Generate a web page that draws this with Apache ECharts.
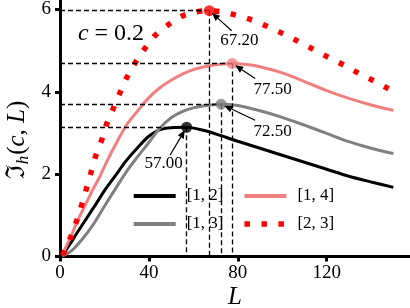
<!DOCTYPE html>
<html><head><meta charset="utf-8">
<script src="https://cdn.jsdelivr.net/npm/echarts@6/dist/echarts.min.js"></script>
<style>html,body{margin:0;padding:0;background:#fff}#c{width:410px;height:308px}</style>
</head><body><div id="c"></div>
<script>
// ---- data ----
const seriesNames = ['[1, 2]', '[1, 3]', '[1, 4]', '[2, 3]'];
const L12 = [1, 4, 8, 12, 16, 20, 25, 30, 35, 40, 45, 50, 57, 65, 70, 80, 90, 100, 110, 120, 130, 140, 150];
const V12 = [0.02, 0.26, 0.60, 0.93, 1.26, 1.60, 1.97, 2.34, 2.65, 2.92, 3.08, 3.13, 3.14, 3.06, 2.98, 2.80, 2.63, 2.46, 2.29, 2.12, 1.95, 1.81, 1.68];
const L13 = [1, 5, 10, 15, 20, 25, 30, 35, 40, 45, 50, 55, 60, 65, 72.5, 80, 90, 100, 110, 120, 130, 140, 150];
const V13 = [0.01, 0.13, 0.42, 0.78, 1.22, 1.65, 2.07, 2.43, 2.77, 3.12, 3.37, 3.52, 3.61, 3.66, 3.70, 3.67, 3.54, 3.38, 3.19, 2.99, 2.79, 2.63, 2.50];
const L14 = [1, 2, 5, 8, 12, 15, 18, 21, 25, 30, 35, 40, 45, 50, 55, 60, 65, 70, 77.5, 85, 90, 100, 110, 120, 130, 140, 150];
const V14 = [0.03, 0.15, 0.50, 0.88, 1.32, 1.65, 1.95, 2.30, 2.72, 3.20, 3.54, 3.86, 4.10, 4.28, 4.43, 4.54, 4.61, 4.66, 4.69, 4.66, 4.61, 4.46, 4.25, 4.03, 3.84, 3.68, 3.55];
const L23 = [1, 2, 5, 7.5, 10, 12, 14, 16, 19, 21, 24, 27, 30, 34, 38, 43, 49, 55, 60, 67.2, 72, 78, 85, 92, 100, 106, 113, 120, 127, 133, 140, 147, 150];
const V23 = [0.03, 0.12, 0.50, 0.87, 1.30, 1.67, 2.05, 2.43, 2.87, 3.22, 3.60, 3.98, 4.34, 4.72, 5.04, 5.38, 5.64, 5.84, 5.93, 5.97, 5.95, 5.88, 5.77, 5.62, 5.42, 5.26, 5.06, 4.86, 4.67, 4.49, 4.30, 4.10, 4.02];
const peakL = [57.0, 72.5, 77.5, 67.2];
const peakV = [3.14, 3.70, 4.69, 5.97];
const xTicks = [0, 40, 80, 120];
const yTicks = [0, 2, 4, 6];
const paramName = 'c';
const paramValue = '0.2';

// ---- styling ----
const colors = ['#000000', '#808080', '#f08080', '#ff0000'];
const FONT = '"Liberation Serif", "DejaVu Serif", serif';
const curves = [[L12, V12], [L13, V13], [L14, V14], [L23, V23]];
const dotted = [5.5, 11.5];

const series = curves.map((c, i) => ({
  name: seriesNames[i], type: 'line',
  data: c[0].map((x, j) => [x, c[1][j]]),
  smooth: 0.3, symbol: 'none', showSymbol: false, z: 3,
  lineStyle: { color: colors[i], width: i === 3 ? 5.5 : 3, type: i === 3 ? dotted : 'solid', cap: 'butt' },
  itemStyle: { color: colors[i] }
}));

series.push({
  type: 'line', data: [], z: 1, silent: true,
  markLine: {
    symbol: 'none', silent: true, animation: false, label: { show: false },
    lineStyle: { color: '#000', width: 1.3, type: [5, 3] },
    data: peakL.flatMap((x, i) => [
      [{ coord: [0, peakV[i]] }, { coord: [x, peakV[i]] }],
      [{ coord: [x, peakV[i]] }, { coord: [x, 0] }]
    ])
  }
});
series.push({
  type: 'scatter', z: 5, symbolSize: 11, silent: true,
  data: peakL.map((x, i) => ({ value: [x, peakV[i]], itemStyle: { color: colors[i] } }))
});

const legendCommon = {
  orient: 'vertical', top: 180, itemWidth: 42, itemHeight: 14, itemGap: 11,
  backgroundColor: '#ffffff', selectedMode: false, borderWidth: 0,
  lineStyle: { width: 4 },
  itemStyle: { color: 'rgba(0,0,0,0)', borderColor: 'rgba(0,0,0,0)', borderWidth: 0, opacity: 0 },
  textStyle: { fontFamily: FONT, fontSize: 17, color: '#000', padding: [0, 0, 0, 6] }
};

const staticGraphic = [
  { type: 'text', id: 'ylab', x: 17, y: 140, rotation: Math.PI / 2, z: 10,
    style: { text: '{f|ℑ}{s|h}{n|(}{i|c}{n|, }{i|L}{n|)}', align: 'center', verticalAlign: 'middle',
      rich: {
        f: { fontFamily: FONT, fontSize: 26, lineHeight: 30, verticalAlign: 'middle' },
        s: { fontFamily: FONT, fontStyle: 'italic', fontSize: 17, lineHeight: 30, verticalAlign: 'bottom', padding: [6, 1, 0, 0] },
        n: { fontFamily: FONT, fontSize: 25, lineHeight: 30 },
        i: { fontFamily: FONT, fontStyle: 'italic', fontSize: 25, lineHeight: 30 }
      } } },
  { type: 'text', id: 'xlab', x: 235, y: 297, z: 10,
    style: { text: 'L', fontFamily: FONT, fontStyle: 'italic', fontSize: 25, fill: '#000', align: 'center', verticalAlign: 'middle' } },
  { type: 'text', id: 'param', x: 111, y: 34, z: 10,
    style: { text: '{i|' + paramName + '}{n| = ' + paramValue + '}', align: 'center', verticalAlign: 'middle',
      rich: { i: { fontFamily: FONT, fontStyle: 'italic', fontSize: 24 }, n: { fontFamily: FONT, fontSize: 24 } } } }
];

const option = {
  animation: false,
  grid: { left: 60, right: 0, top: 0, bottom: 51.5, containLabel: false },
  xAxis: {
    type: 'value', min: 0, max: 157.5,
    axisLine: { lineStyle: { color: '#000', width: 3 } },
    axisTick: { show: true, inside: false, length: 5, lineStyle: { color: '#000', width: 3 }, customValues: xTicks },
    axisLabel: { customValues: xTicks, margin: 7, fontFamily: FONT, fontSize: 19, color: '#000' },
    splitLine: { show: false }
  },
  yAxis: {
    type: 'value', min: 0, max: 6.218,
    axisLine: { show: true, lineStyle: { color: '#000', width: 3 } },
    axisTick: { show: true, inside: false, length: 5, lineStyle: { color: '#000', width: 3 }, customValues: yTicks },
    axisLabel: { customValues: yTicks, margin: 9, fontFamily: FONT, fontSize: 19, color: '#000' },
    splitLine: { show: false }
  },
  legend: [
    Object.assign({}, legendCommon, { left: 124, padding: [7.5, 14, 12, 7.7],
      data: [{ name: seriesNames[0] }, { name: seriesNames[1] }] }),
    Object.assign({}, legendCommon, { left: 236, padding: [7.5, 12, 12, 5.7],
      data: [{ name: seriesNames[2] }, { name: seriesNames[3], lineStyle: { width: 5.5, type: dotted, cap: 'butt' } }] })
  ],
  series: series
};

const chart = echarts.init(document.getElementById('c'), null, { renderer: 'canvas' });
chart.setOption(option);

// annotations: text + arrow, placed relative to each peak
const annText = [[-23, 36.5], [51.5, 27], [40.5, 26], [30, 30]];
const annTail = [[-16.7, 28], [34, 16], [23, 15], [22.4, 20]];
const g = staticGraphic.slice();
peakL.forEach((x, i) => {
  const p = chart.convertToPixel({ gridIndex: 0 }, [x, peakV[i]]);
  const tx = p[0] + annText[i][0], ty = p[1] + annText[i][1];
  const ax = p[0] + annTail[i][0], ay = p[1] + annTail[i][1];
  const dx = p[0] - ax, dy = p[1] - ay, len = Math.hypot(dx, dy);
  const ux = dx / len, uy = dy / len;
  const hx = p[0] - ux * 3.5, hy = p[1] - uy * 3.5;
  const bx = hx - ux * 8, by = hy - uy * 8;
  g.push({ type: 'text', id: 'at' + i, z: 10, x: tx, y: ty,
    style: { text: peakL[i].toFixed(2), fontFamily: FONT, fontSize: 17, fill: '#000', align: 'center', verticalAlign: 'middle' } });
  g.push({ type: 'line', id: 'al' + i, z: 10, shape: { x1: ax, y1: ay, x2: bx, y2: by }, style: { stroke: '#000', lineWidth: 1.2 } });
  g.push({ type: 'polygon', id: 'ah' + i, z: 10, shape: { points: [[hx, hy], [bx - uy * 3.5, by + ux * 3.5], [bx + uy * 3.5, by - ux * 3.5]] },
    style: { fill: '#000' } });
});
chart.setOption({ graphic: g });
</script>
</body></html>
